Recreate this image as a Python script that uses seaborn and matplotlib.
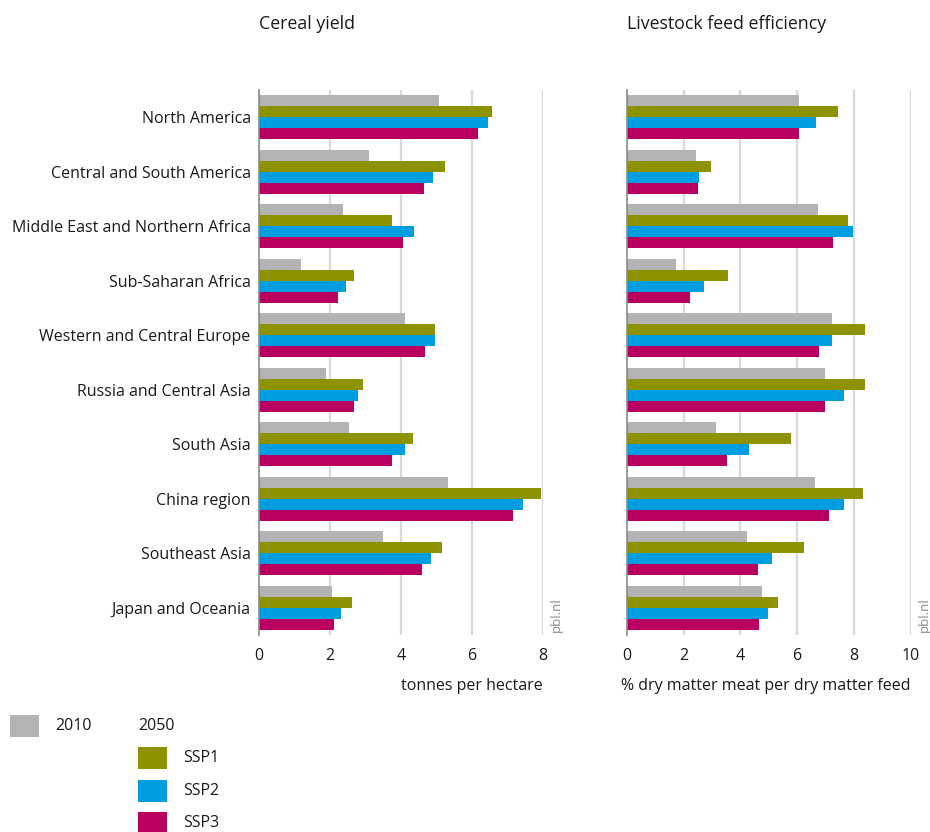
import pandas as pd
import matplotlib
matplotlib.use("Agg")
import matplotlib.pyplot as plt
from matplotlib.patches import Rectangle
import seaborn as sns

# Data
regions = ["North America", "Central and South America", "Middle East and Northern Africa",
           "Sub-Saharan Africa", "Western and Central Europe", "Russia and Central Asia",
           "South Asia", "China region", "Southeast Asia", "Japan and Oceania"]
scenarios = ["2010", "SSP1", "SSP2", "SSP3"]

cereal_2010 = [5.08, 3.11, 2.37, 1.19, 4.12, 1.89, 2.54, 5.34, 3.51, 2.06]
cereal_ssp1 = [6.58, 5.25, 3.76, 2.68, 4.97, 2.94, 4.35, 7.97, 5.15, 2.63]
cereal_ssp2 = [6.47, 4.92, 4.38, 2.46, 4.97, 2.80, 4.13, 7.46, 4.86, 2.32]
cereal_ssp3 = [6.19, 4.66, 4.07, 2.23, 4.69, 2.69, 3.76, 7.18, 4.61, 2.12]

feed_2010 = [6.05, 2.42, 6.72, 1.72, 7.22, 6.97, 3.13, 6.62, 4.22, 4.75]
feed_ssp1 = [7.46, 2.98, 7.78, 3.58, 8.41, 8.38, 5.77, 8.31, 6.26, 5.31]
feed_ssp2 = [6.65, 2.53, 7.96, 2.70, 7.22, 7.67, 4.29, 7.64, 5.10, 4.99]
feed_ssp3 = [6.05, 2.49, 7.25, 2.21, 6.76, 6.97, 3.51, 7.14, 4.61, 4.64]

colors = ["#b3b3b3", "#8c9200", "#009ee0", "#b90061"]


def long_form(series):
    rows = []
    for scen, vals in zip(scenarios, series):
        for reg, v in zip(regions, vals):
            rows.append({"region": reg, "scenario": scen, "value": v})
    return pd.DataFrame(rows)


cereal = long_form([cereal_2010, cereal_ssp1, cereal_ssp2, cereal_ssp3])
feed = long_form([feed_2010, feed_ssp1, feed_ssp2, feed_ssp3])

sns.set_style("white")
plt.rcParams["font.family"] = ["Open Sans", "DejaVu Sans"]
text_color = "#1a1a1a"

W, H = 930, 832
fig = plt.figure(figsize=(W / 100, H / 100), dpi=100)


def fx(px):
    return px / W


def fy(py):
    return 1 - py / H


panels = [
    (cereal, 259, 8, "Cereal yield", "tonnes per hectare", True),
    (feed, 627, 10, "Livestock feed efficiency", "% dry matter meat per dry matter feed", False),
]

for data, left, xmax, title, xlabel, show_y in panels:
    ax = fig.add_axes([fx(left), fy(635), fx(283.5), 545 / H])
    sns.barplot(data=data, y="region", x="value", hue="scenario", hue_order=scenarios,
                order=regions, palette=colors, saturation=1, orient="h",
                legend=False, ax=ax, width=0.8, linewidth=0, edgecolor="none")
    ax.set_xlim(0, xmax)
    ax.set_ylim(9.5, -0.5)
    ax.set_xticks(range(0, xmax + 1, 2))
    ax.set_xticklabels([str(t) for t in range(0, xmax + 1, 2)])
    for t in range(2, xmax + 1, 2):
        ax.axvline(t, color="#d9d9d9", lw=1.6, zorder=0)
    for s in ["top", "right", "bottom"]:
        ax.spines[s].set_visible(False)
    ax.spines["left"].set_color("#8a8a8a")
    ax.spines["left"].set_linewidth(1.2)
    ax.tick_params(axis="both", length=0, labelsize=11.5, colors=text_color)
    ax.tick_params(axis="x", pad=9)
    ax.tick_params(axis="y", pad=6)
    ax.set_ylabel("")
    ax.set_xlabel("")
    if not show_y:
        ax.set_yticklabels([])
    fig.text(fx(left), fy(24), title, fontsize=12.8, color=text_color, ha="left", va="center")
    fig.text(fx(left + 283.5), fy(686), xlabel, fontsize=11.5, color=text_color,
             ha="right", va="center")
    fig.text(fx(left + 297), fy(632), "pbl.nl", fontsize=9.5, color="#8a8a8a",
             rotation=90, ha="center", va="bottom")

# Legend
legend_items = [
    (10, 715, "2010", colors[0]),
    (138, 747, "SSP1", colors[1]),
    (138, 780, "SSP2", colors[2]),
    (138, 812, "SSP3", colors[3]),
]
for x0, y0, label, c in legend_items:
    fig.add_artist(Rectangle((fx(x0), fy(y0 + 22)), fx(29), 22 / H,
                             transform=fig.transFigure, facecolor=c, edgecolor="none"))
    fig.text(fx(x0 + 45), fy(y0 + 11), label, fontsize=11.5, color=text_color,
             ha="left", va="center")
fig.text(fx(138), fy(726), "2050", fontsize=11.5, color=text_color, ha="left", va="center")

fig.savefig("out.png", dpi=100)
